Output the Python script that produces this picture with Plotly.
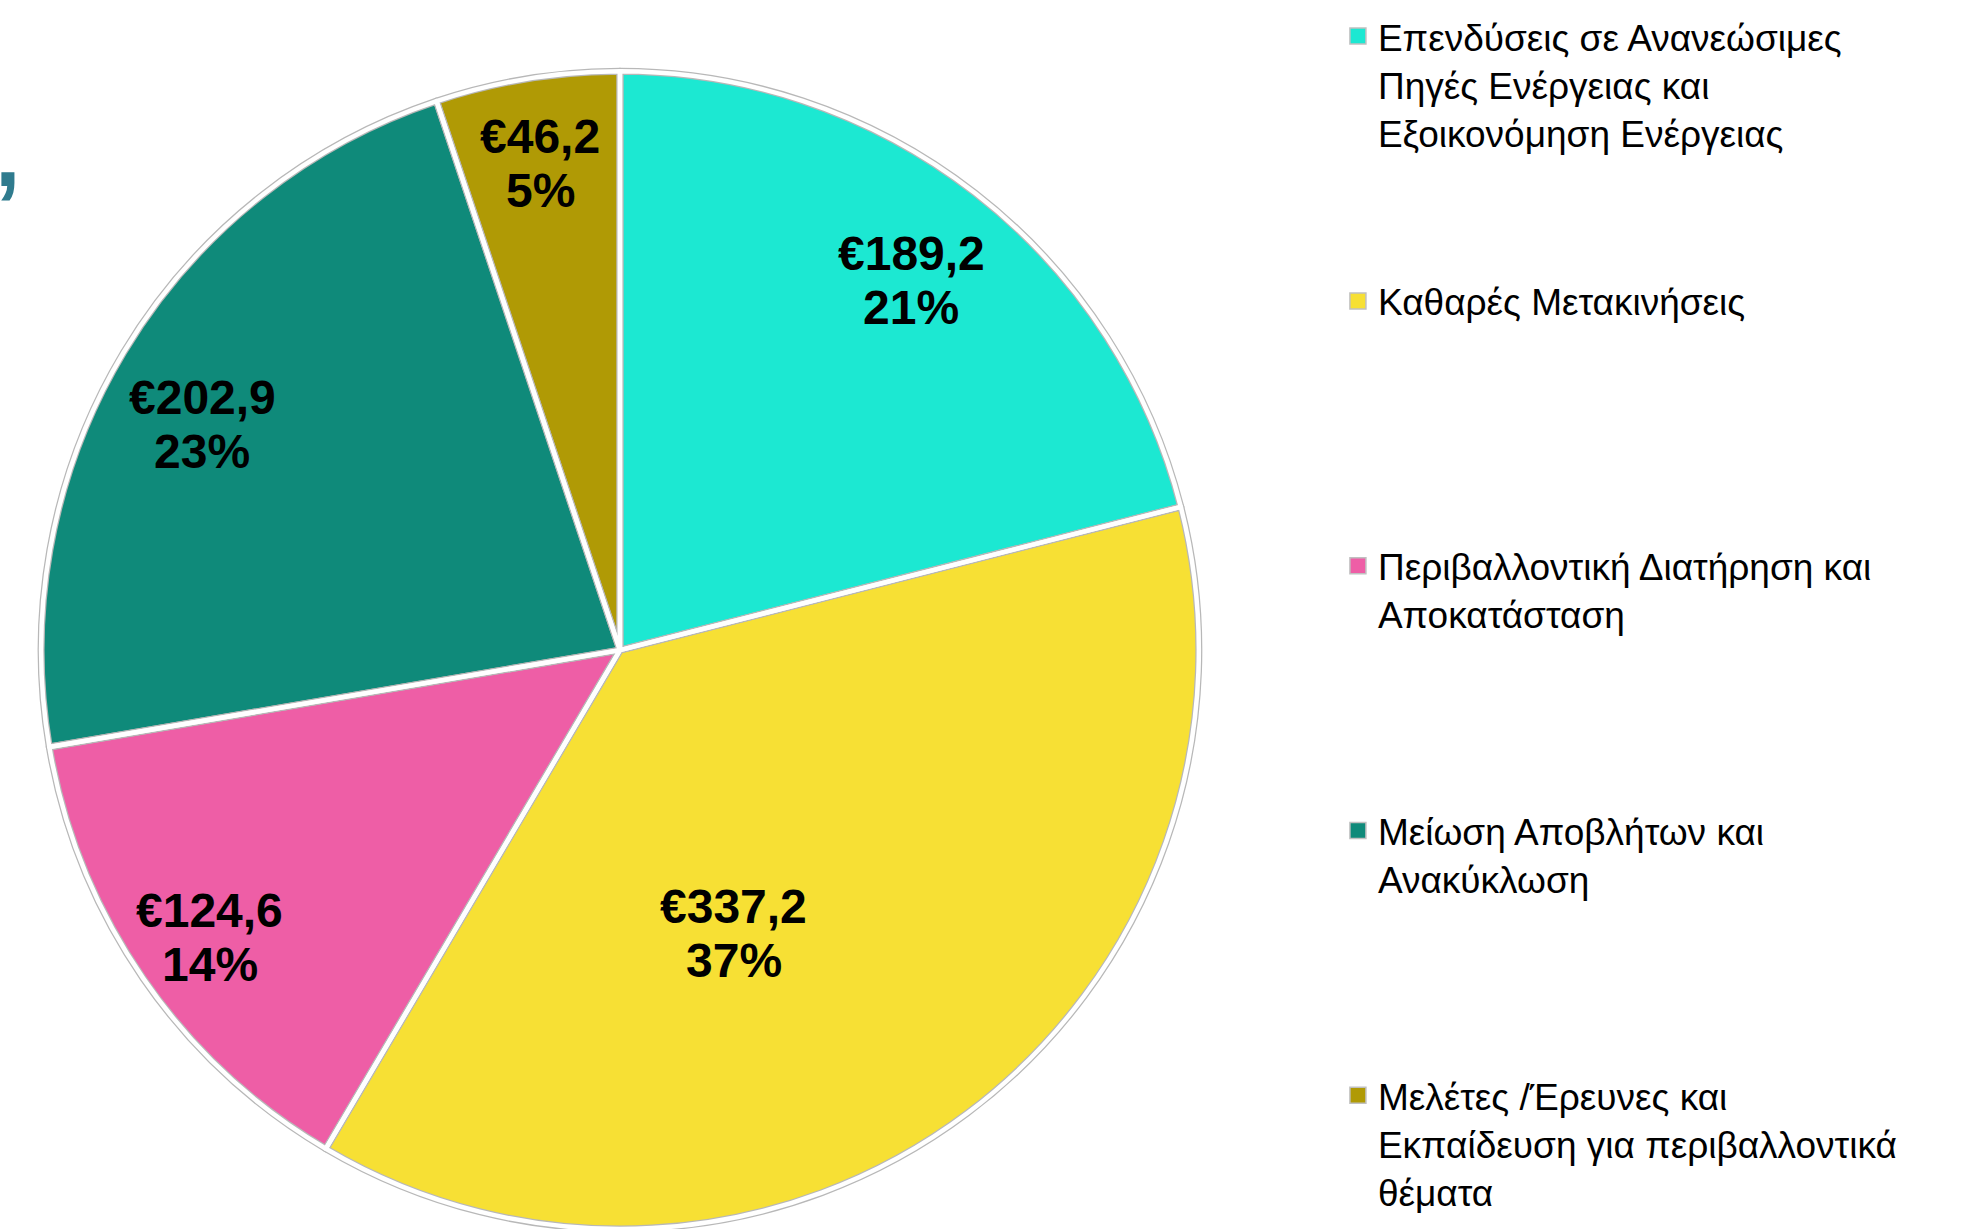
import math
import plotly.graph_objects as go

# Chart data
categories = [
    "Επενδύσεις σε Ανανεώσιμες<br>Πηγές Ενέργειας και<br>Εξοικονόμηση Ενέργειας",
    "Καθαρές Μετακινήσεις",
    "Περιβαλλοντική Διατήρηση και<br>Αποκατάσταση",
    "Μείωση Αποβλήτων και<br>Ανακύκλωση",
    "Μελέτες /Έρευνες και<br>Εκπαίδευση για περιβαλλοντικά<br>θέματα",
]
values = [189.2, 337.2, 124.6, 202.9, 46.2]
colors = ["#1CE8D2", "#F7E034", "#EE5EA6", "#0F8A7A", "#B09A05"]

# Label placement along each slice (fraction of radius, turn from the middle ray in degrees),
# mimicking the "best fit" placement of the original
label_radius = [0.82, 0.52, 0.86, 0.825, 0.86]
label_turn = [0, 14.7, 0, -2, 0]

W, H = 1983, 1229
pie_domain = dict(x=[0.0202, 0.6051], y=[0.0, 0.942])

fig = go.Figure()

# Coloured slices
fig.add_trace(go.Pie(
    labels=categories, values=values, sort=False, direction="clockwise", rotation=0,
    marker=dict(colors=colors, line=dict(color="white", width=0)),
    textinfo="none", domain=pie_domain, showlegend=False,
    hoverinfo="label+value+percent",
))
# Grey then white separators on top (white gap with thin grey edges)
for lc, lw in [("#b8b8b8", 7), ("white", 4.5)]:
    fig.add_trace(go.Pie(
        labels=categories, values=values, sort=False, direction="clockwise", rotation=0,
        marker=dict(colors=["rgba(0,0,0,0)"] * len(values), line=dict(color=lc, width=lw)),
        textinfo="none", hoverinfo="skip", domain=pie_domain, showlegend=False,
    ))

# Data labels: "€value" over rounded percent, placed from each slice's angle
cx = (pie_domain["x"][0] + pie_domain["x"][1]) / 2 * W
cy = (pie_domain["y"][0] + pie_domain["y"][1]) / 2 * H
R = min((pie_domain["x"][1] - pie_domain["x"][0]) * W, (pie_domain["y"][1] - pie_domain["y"][0]) * H) / 2
total = sum(values)
annotations = []
cum = 0
for v, fr, turn in zip(values, label_radius, label_turn):
    mid = (cum + v / 2) / total * 2 * math.pi + math.radians(turn)
    cum += v
    px = cx + fr * R * math.sin(mid)
    py = cy + fr * R * math.cos(mid)
    lines = ["€" + f"{v:.1f}".replace(".", ","), f"{round(v / total * 100)}%"]
    for txt, shift in zip(lines, [22, -32]):
        annotations.append(dict(
            text="<b>" + txt + "</b>", x=px / W, y=py / H, xref="paper", yref="paper",
            xanchor="center", yanchor="middle", yshift=shift, showarrow=False,
            font=dict(family="Liberation Sans, Arial", size=48, color="black"),
        ))

# stray fragment of a title at the left edge of the original picture
annotations.append(dict(
    text="<b>,</b>", x=0.0, y=0.875, xref="paper", yref="paper",
    xanchor="left", yanchor="middle", xshift=-7, showarrow=False,
    font=dict(family="Liberation Sans, Arial", size=92, color="#2F7B8E"),
))

# Legend entries (padded to 3 lines so the entries are evenly spaced)
for name, col in zip(categories, colors):
    n = name.count("<br>") + 1
    padded = name + "<br>\u00a0" * (3 - n)
    fig.add_trace(go.Scatter(
        x=[None], y=[None], mode="markers", name=padded, legendgroup=name,
        marker=dict(symbol="square", size=16, color=col, line=dict(color="#c0c0c0", width=1.5)),
    ))

fig.update_layout(
    width=W, height=H,
    margin=dict(l=0, r=0, t=0, b=0),
    paper_bgcolor="white", plot_bgcolor="white",
    xaxis=dict(visible=False), yaxis=dict(visible=False),
    legend=dict(
        x=0.6747, y=0.9955, xanchor="left", yanchor="top",
        valign="top", tracegroupgap=117.5,
        font=dict(family="Liberation Sans, Arial", size=37, color="black"),
        bgcolor="rgba(0,0,0,0)",
    ),
    annotations=annotations,
)

# drop the browser's default 8px page margin so the figure fills the window exactly
fig.write_html("out.html", config={"displayModeBar": False},
               post_script="document.body.style.margin='0';")
